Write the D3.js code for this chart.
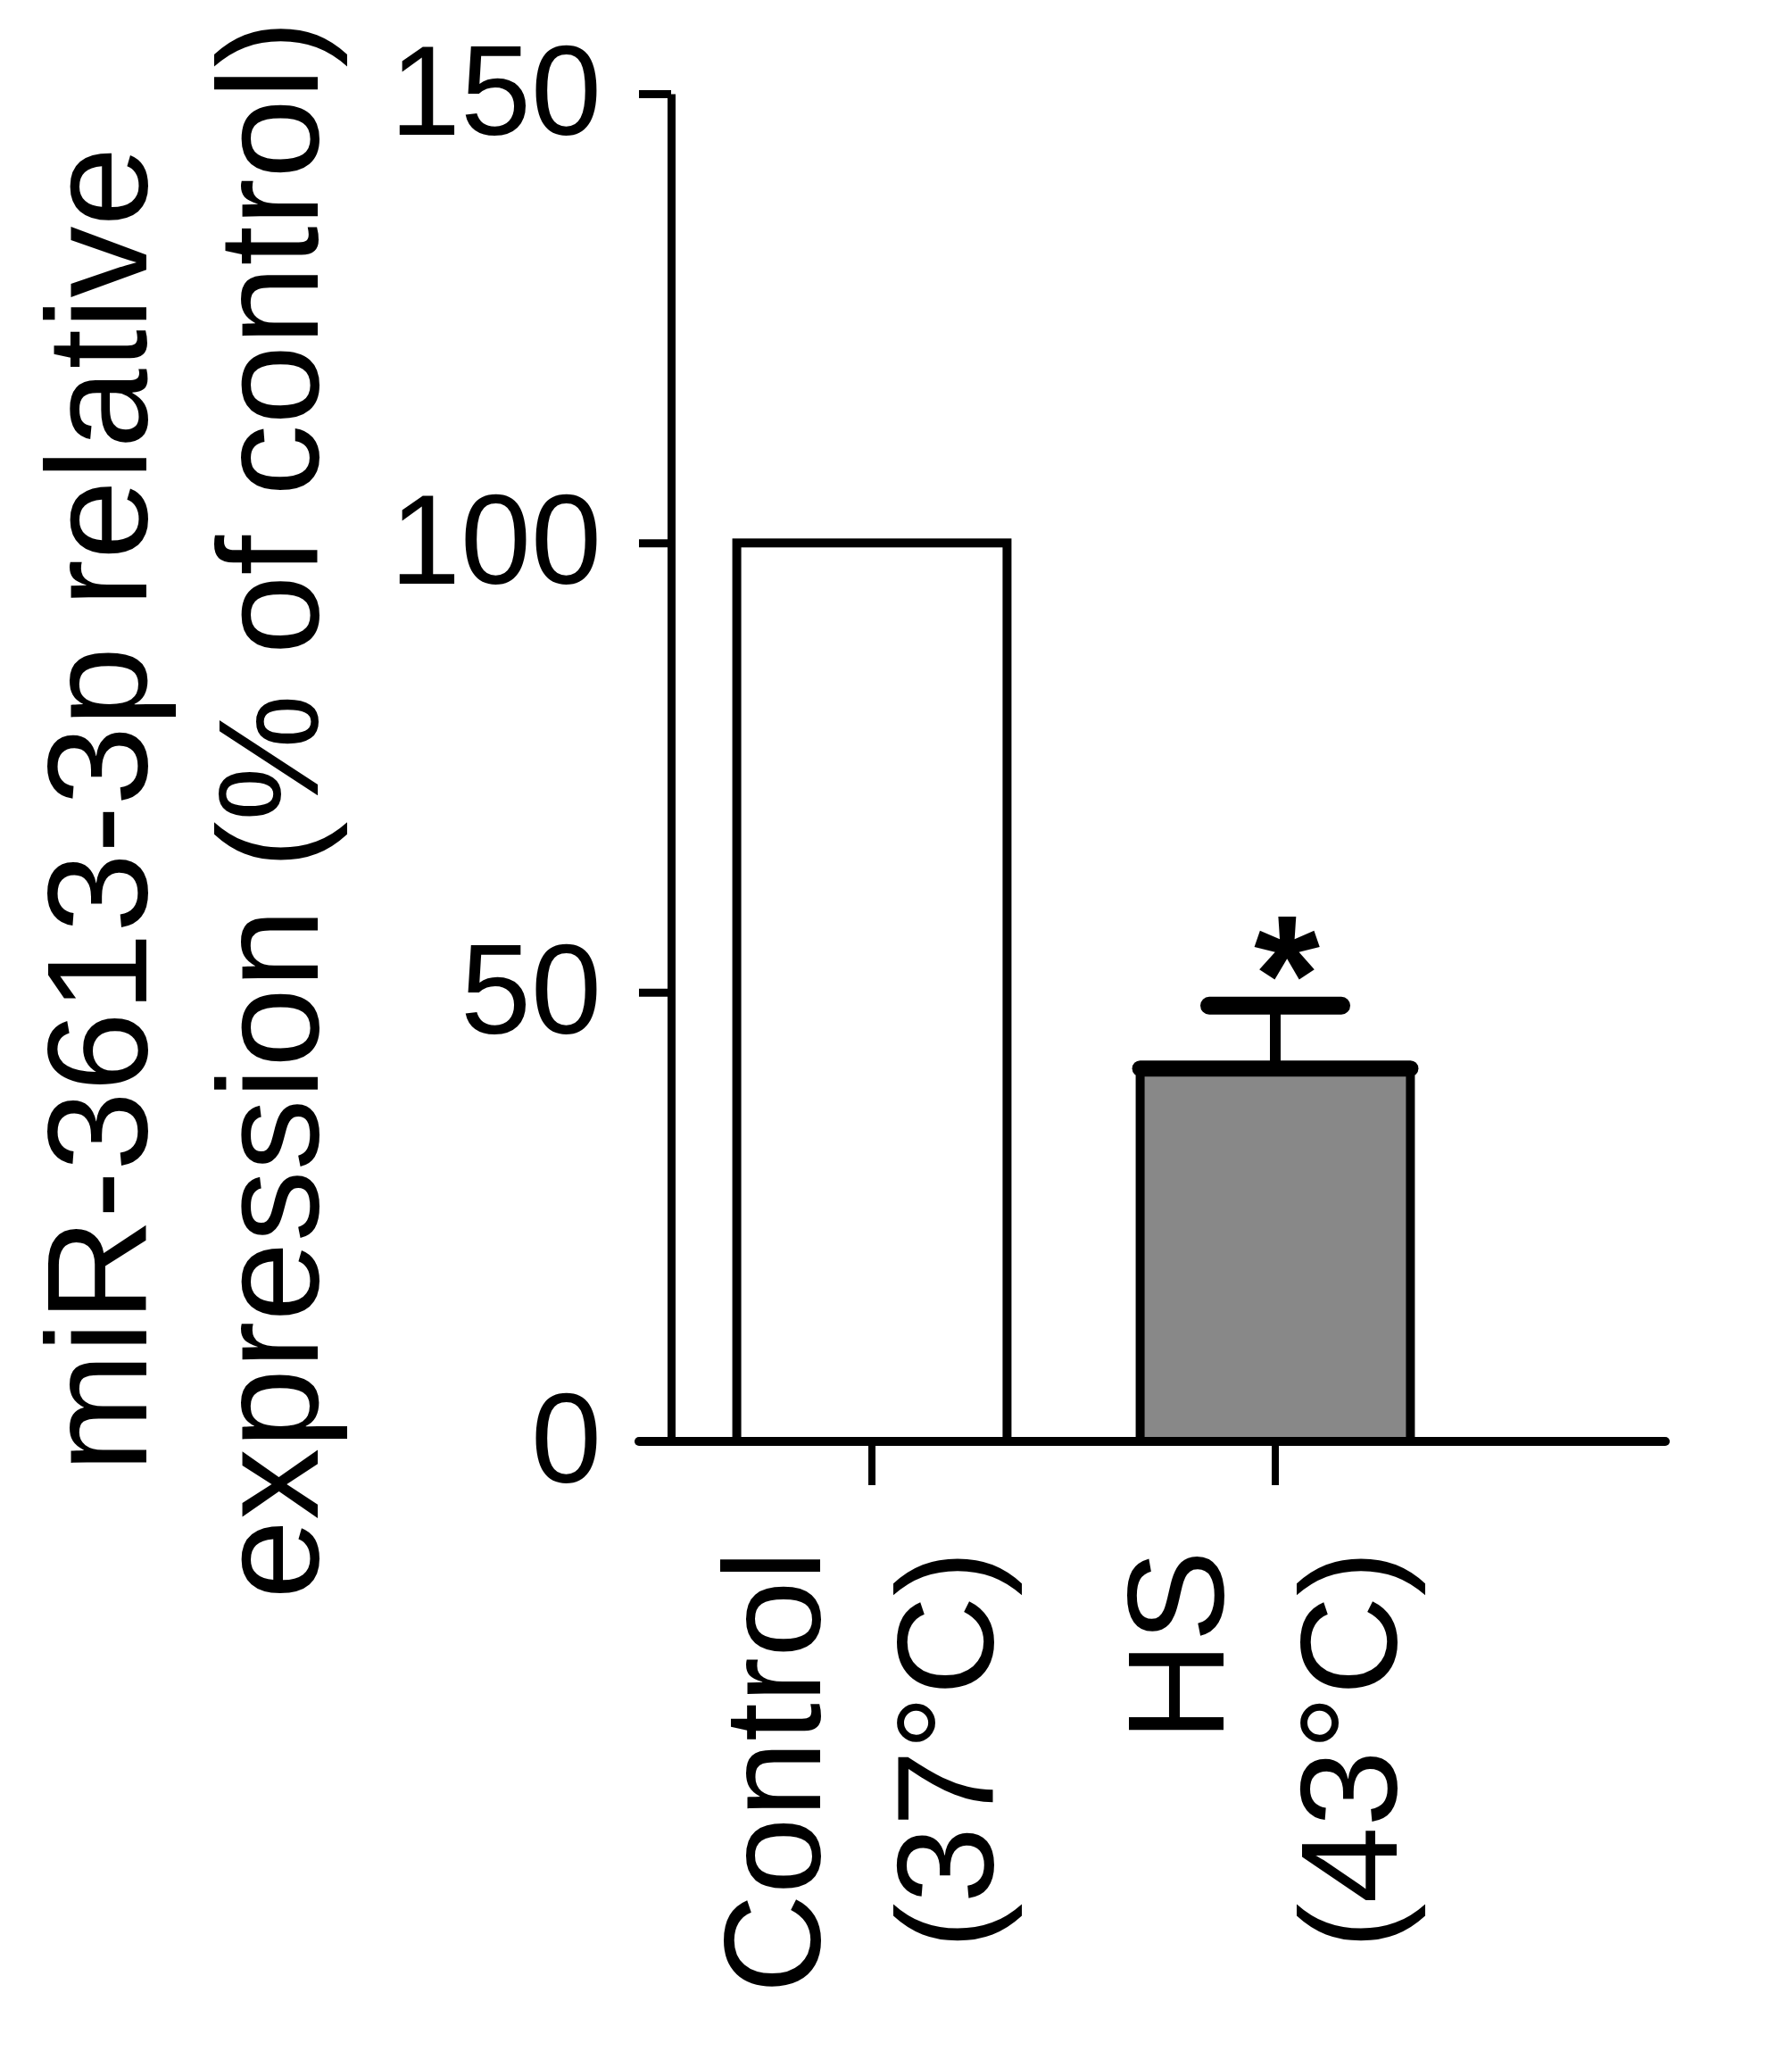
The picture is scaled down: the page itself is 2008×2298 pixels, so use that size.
<!DOCTYPE html>
<html>
<head>
<meta charset="utf-8">
<script src="https://cdn.jsdelivr.net/npm/d3@7"></script>
<style>
  body { margin: 0; background: #fff; }
  text { font-family: "Liberation Sans", Arial, Helvetica, sans-serif; fill: #000; }
</style>
</head>
<body>
<div id="chart"></div>
<script>
// data
var categories = ["Control", "HS"];
var subLabels = ["(37°C)", "(43°C)"];
var values = [100, 41.5];
var errUpper = [null, 48.5];
var fills = ["#ffffff", "#888888"];
var marks = ["", "*"];
var yTicks = [0, 50, 100, 150];

var W = 2008, H = 2298;

var svg = d3.select("#chart")
    .append("svg")
    .attr("width", W)
    .attr("height", H);

// scales
var y = d3.scaleLinear()
    .domain([0, 150])
    .range([1615, 105]);

var x = d3.scaleBand()
    .domain(categories)
    .range([751, 1655])
    .paddingInner(0.33)
    .paddingOuter(0.165);

// Y axis
var yAxis = svg.append("g")
    .attr("transform", "translate(752,0)")
    .call(d3.axisLeft(y).tickValues(yTicks).tickSize(36).tickSizeOuter(0).tickPadding(42));
yAxis.select(".domain").attr("stroke-width", 9);
yAxis.selectAll(".tick line").attr("stroke-width", 9);
yAxis.selectAll(".tick text")
    .style("font-size", "142px");

// bars
svg.selectAll(".bar").data(categories)
    .enter()
    .append("rect")
    .attr("class", "bar")
    .attr("x", d => x(d))
    .attr("y", (d, i) => y(values[i]))
    .attr("width", x.bandwidth())
    .attr("height", (d, i) => y(0) - y(values[i]))
    .attr("fill", (d, i) => fills[i])
    .attr("stroke", "#000")
    .attr("stroke-width", 10);

// error bars (upper only)
var errs = categories.filter((d, i) => errUpper[i] != null);
errs.forEach(function (d) {
    var i = categories.indexOf(d);
    var cx = x(d) + x.bandwidth() / 2;
    svg.append("line")
        .attr("x1", x(d)).attr("x2", x(d) + x.bandwidth())
        .attr("y1", y(values[i])).attr("y2", y(values[i]))
        .attr("stroke", "#000").attr("stroke-width", 18)
        .attr("stroke-linecap", "round");
    svg.append("line")
        .attr("x1", cx).attr("x2", cx)
        .attr("y1", y(values[i])).attr("y2", y(errUpper[i]))
        .attr("stroke", "#000").attr("stroke-width", 12);
    svg.append("line")
        .attr("x1", cx - 74).attr("x2", cx + 74)
        .attr("y1", y(errUpper[i])).attr("y2", y(errUpper[i]))
        .attr("stroke", "#000").attr("stroke-width", 20)
        .attr("stroke-linecap", "round");
    svg.append("text")
        .attr("x", cx + 13)
        .attr("y", y(errUpper[i]) + 30)
        .attr("text-anchor", "middle")
        .style("font-size", "190px")
        .style("font-weight", "bold")
        .text(marks[i]);
});

// X axis
var xAxis = svg.append("g")
    .attr("transform", "translate(0," + y(0) + ")")
    .call(d3.axisBottom(x).tickSize(49).tickSizeOuter(0).tickFormat(""));
xAxis.select(".domain").remove();
xAxis.selectAll(".tick line").attr("stroke-width", 8);
svg.append("line")
    .attr("x1", 716).attr("x2", 1866)
    .attr("y1", y(0)).attr("y2", y(0))
    .attr("stroke", "#000").attr("stroke-width", 10)
    .attr("stroke-linecap", "round");

// rotated category labels
categories.forEach(function (d, i) {
    var cx = x(d) + x.bandwidth() / 2;
    var t = svg.append("text")
        .attr("transform", "translate(" + (cx - 58) + ",1737) rotate(-90)")
        .attr("text-anchor", "end")
        .style("font-size", "154px");
    t.append("tspan").attr("x", 0).attr("y", 0).text(d);
    t.append("tspan").attr("x", 0).attr("y", 194).text(subLabels[i]);
});

// Y axis title
var yt = svg.append("text")
    .attr("transform", "translate(164,907) rotate(-90)")
    .attr("text-anchor", "middle")
    .style("font-size", "160px");
yt.append("tspan").attr("x", 0).attr("y", 0).text("miR-3613-3p relative");
yt.append("tspan").attr("x", 0).attr("y", 192).text("expression (% of control)");
</script>
</body>
</html>
